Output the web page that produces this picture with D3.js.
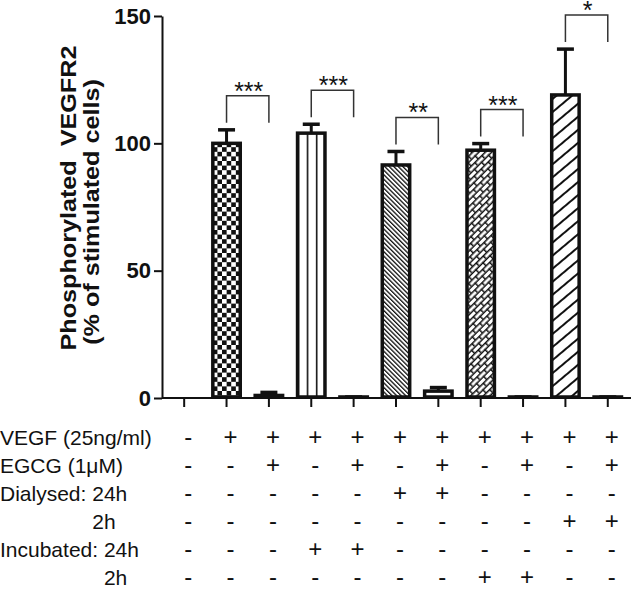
<!DOCTYPE html>
<html>
<head>
<meta charset="utf-8">
<script src="https://cdn.jsdelivr.net/npm/d3@7"></script>
<style>
body { margin: 0; background: #fff; }
svg { display: block; font-family: "Liberation Sans", Arial, sans-serif; }
</style>
</head>
<body>
<div class="content"></div>
<script>
var size = {width: 631, height: 589};
var padding = {left: 162, right: 0, top: 16, bottom: 191};

// One entry per condition (column of the table below the chart)
var conditions = ["c1", "c2", "c3", "c4", "c5", "c6", "c7", "c8", "c9", "c10", "c11"];
var values = [0, 100, 1, 104, 0.4, 91.5, 2.7, 97.3, 0.4, 119, 0.4];
var errors = [0, 5.3, 1.2, 3.5, 0, 5.3, 1.4, 2.6, 0, 18, 0];
var fills = ["none", "checker", "white", "vlines", "white", "diag", "white", "brick", "white", "wide", "white"];
var yTicks = [0, 50, 100, 150];

// Significance brackets between pairs of bars
var pairs = [[1, 2], [3, 4], [5, 6], [7, 8], [9, 10]];
var stars = ["***", "***", "**", "***", "*"];

// Treatment table
var rowLabels = ["VEGF (25ng/ml)", "EGCG (1\u03bcM)", "Dialysed: 24h", "2h", "Incubated: 24h", "2h"];
var rowParents = [null, null, null, "Dialysed: 24h", null, "Incubated: 24h"];
var rowSigns = [
    ["-", "+", "+", "+", "+", "+", "+", "+", "+", "+", "+"],
    ["-", "-", "+", "-", "+", "-", "+", "-", "+", "-", "+"],
    ["-", "-", "-", "-", "-", "+", "+", "-", "-", "-", "-"],
    ["-", "-", "-", "-", "-", "-", "-", "-", "-", "+", "+"],
    ["-", "-", "-", "+", "+", "-", "-", "-", "-", "-", "-"],
    ["-", "-", "-", "-", "-", "-", "-", "+", "+", "-", "-"]
];

var svg = d3.select('.content')
    .append('svg')
    .attr('width', size.width)
    .attr('height', size.height);

var xScale = d3.scaleBand()
    .domain(conditions)
    .range([padding.left + 1, padding.left + 1 + 42.36 * conditions.length])
    .paddingInner(0.27)
    .paddingOuter(0.135);
var yScale = d3.scaleLinear()
    .domain([0, 150])
    .range([398, padding.top]);

var barStroke = 3.5;
var bw = xScale.bandwidth();

// Fill patterns, one per bar so each lines up with its own bar
var defs = svg.append('defs');
function makePattern(i, kind) {
    var bx = xScale(conditions[i]) + barStroke / 2;
    var inner = bw - barStroke;
    var id = 'pat' + i;
    var p;
    if (kind == 'checker') {
        var c = 4.6;
        p = defs.append('pattern').attr('id', id).attr('patternUnits', 'userSpaceOnUse')
            .attr('x', bx).attr('y', 0).attr('width', 2 * c).attr('height', 2 * c);
        p.append('rect').attr('width', 2 * c).attr('height', 2 * c).attr('fill', '#fff');
        p.append('rect').attr('width', c).attr('height', c).attr('fill', '#111');
        p.append('rect').attr('x', c).attr('y', c).attr('width', c).attr('height', c).attr('fill', '#111');
    } else if (kind == 'vlines') {
        var w = inner / 3;
        p = defs.append('pattern').attr('id', id).attr('patternUnits', 'userSpaceOnUse')
            .attr('x', bx).attr('y', 0).attr('width', w).attr('height', 10);
        p.append('rect').attr('width', w).attr('height', 10).attr('fill', '#fff');
        p.append('rect').attr('x', 0).attr('width', 1.6).attr('height', 10).attr('fill', '#111');
    } else if (kind == 'diag') {
        p = defs.append('pattern').attr('id', id).attr('patternUnits', 'userSpaceOnUse')
            .attr('width', 3.2).attr('height', 10).attr('patternTransform', 'rotate(-45)');
        p.append('rect').attr('width', 3.2).attr('height', 10).attr('fill', '#fff');
        p.append('rect').attr('width', 1.3).attr('height', 10).attr('fill', '#111');
    } else if (kind == 'brick') {
        p = defs.append('pattern').attr('id', id).attr('patternUnits', 'userSpaceOnUse')
            .attr('width', 10).attr('height', 9).attr('patternTransform', 'rotate(-45)');
        p.append('rect').attr('width', 10).attr('height', 9).attr('fill', '#fff');
        p.append('rect').attr('y', 0).attr('width', 10).attr('height', 1.5).attr('fill', '#111');
        p.append('rect').attr('y', 4.5).attr('width', 10).attr('height', 1.5).attr('fill', '#111');
        p.append('rect').attr('x', 0).attr('y', 0).attr('width', 1.5).attr('height', 4.5).attr('fill', '#111');
        p.append('rect').attr('x', 5).attr('y', 4.5).attr('width', 1.5).attr('height', 4.5).attr('fill', '#111');
    } else if (kind == 'wide') {
        p = defs.append('pattern').attr('id', id).attr('patternUnits', 'userSpaceOnUse')
            .attr('width', 10).attr('height', 10).attr('patternTransform', 'rotate(-40)');
        p.append('rect').attr('width', 10).attr('height', 10).attr('fill', '#fff');
        p.append('rect').attr('y', 0).attr('width', 10).attr('height', 2).attr('fill', '#111');
    } else {
        return '#fff';
    }
    return 'url(#' + id + ')';
}

// Axes
var yAxis = d3.axisLeft(yScale).tickValues(yTicks).tickSize(8).tickSizeOuter(0).tickPadding(3);
var yAxisObj = svg.append('g')
    .attr('transform', 'translate(' + padding.left + ',0)')
    .call(yAxis);
yAxisObj.select('.domain').attr('stroke', '#111').attr('stroke-width', 2);
yAxisObj.selectAll('.tick line').attr('stroke', '#111').attr('stroke-width', 2);
yAxisObj.selectAll('.tick text')
    .attr('fill', '#111')
    .style('font-size', '22px')
    .style('font-weight', 'bold');

var xAxis = d3.axisBottom(xScale).tickSize(9).tickSizeOuter(0).tickFormat('');
var xAxisObj = svg.append('g')
    .attr('transform', 'translate(0,' + yScale(0) + ')')
    .call(xAxis);
xAxisObj.select('.domain').remove();
xAxisObj.selectAll('.tick line').attr('stroke', '#111').attr('stroke-width', 2);
svg.append('line')
    .attr('x1', padding.left).attr('x2', size.width)
    .attr('y1', yScale(0)).attr('y2', yScale(0))
    .attr('stroke', '#111').attr('stroke-width', 2);

// Bars
var barData = conditions.map(function(d, i) {
    return {id: d, value: values[i], err: errors[i], fill: makePattern(i, fills[i])};
}).filter(function(d) { return d.value > 0; });

var plot = svg.append('g').attr('class', 'plot');

// Error bars (upper only), drawn under the bars
plot.selectAll('line.stem').data(barData).enter().append('line')
    .attr('class', 'stem')
    .attr('x1', function(d) { return xScale(d.id) + bw / 2; })
    .attr('x2', function(d) { return xScale(d.id) + bw / 2; })
    .attr('y1', function(d) { return yScale(d.value); })
    .attr('y2', function(d) { return yScale(d.value + d.err); })
    .attr('stroke', '#111').attr('stroke-width', 3);
plot.selectAll('line.cap').data(barData).enter().append('line')
    .attr('class', 'cap')
    .attr('x1', function(d) { return xScale(d.id) + bw / 2 - 8.5; })
    .attr('x2', function(d) { return xScale(d.id) + bw / 2 + 8.5; })
    .attr('y1', function(d) { return yScale(d.value + d.err); })
    .attr('y2', function(d) { return yScale(d.value + d.err); })
    .attr('stroke', '#111').attr('stroke-width', 3.5);

plot.selectAll('rect.bar').data(barData).enter().append('rect')
    .attr('class', 'bar')
    .attr('x', function(d) { return xScale(d.id) + barStroke / 2; })
    .attr('width', bw - barStroke)
    .attr('y', function(d) { return yScale(d.value); })
    .attr('height', function(d) { return yScale(0) - yScale(d.value) - 1; })
    .attr('fill', function(d) { return d.fill; })
    .attr('stroke', '#111')
    .attr('stroke-width', barStroke);

// Significance brackets
var brackets = pairs.map(function(p, i) {
    var top = d3.max(p, function(k) { return values[k] + errors[k]; });
    return {a: conditions[p[0]], b: conditions[p[1]], top: top, label: stars[i]};
});
var br = svg.selectAll('g.bracket').data(brackets).enter().append('g').attr('class', 'bracket');
br.append('path')
    .attr('d', function(d) {
        var xa = xScale(d.a) + bw / 2, xb = xScale(d.b) + bw / 2;
        var yt = yScale(d.top) - 34;
        return 'M' + xa + ',' + (yt + 27) + 'V' + yt + 'H' + xb + 'V' + (yt + 27);
    })
    .attr('fill', 'none').attr('stroke', '#333').attr('stroke-width', 1.5);
br.append('text')
    .attr('x', function(d) { return (xScale(d.a) + xScale(d.b)) / 2 + bw / 2 + 1; })
    .attr('y', function(d) { return yScale(d.top) - 30; })
    .attr('text-anchor', 'middle')
    .style('font-size', '25px')
    .attr('fill', '#111')
    .text(function(d) { return d.label; });

// Y-axis title (stretched along its length like the original)
svg.append('text')
    .attr('transform', 'translate(76,198) rotate(-90) scale(1.145,1)')
    .attr('text-anchor', 'middle')
    .style('font-size', '22px').style('font-weight', 'bold')
    .attr('fill', '#111')
    .style('white-space', 'pre')
    .text('Phosphorylated  VEGFR2');
svg.append('text')
    .attr('transform', 'translate(99,212) rotate(-90) scale(1.145,1)')
    .attr('text-anchor', 'middle')
    .style('font-size', '22px').style('font-weight', 'bold')
    .attr('fill', '#111')
    .text('(% of stimulated cells)');

// Treatment table
var tableFont = '21px "Liberation Sans", Arial, sans-serif';
var signFont = '24px "Liberation Sans", Arial, sans-serif';
function textWidth(str) {
    var t = svg.append('text').style('font', tableFont).text(str);
    var w = t.node().getComputedTextLength();
    t.remove();
    return w;
}
var rowBase = 445, rowStep = 28;
var rows = svg.selectAll('g.row').data(rowLabels).enter().append('g')
    .attr('class', 'row')
    .attr('transform', function(d, i) { return 'translate(0,' + (rowBase + i * rowStep) + ')'; });
rows.append('text')
    .attr('x', function(d, i) {
        var p = rowParents[i];
        return p ? textWidth(p) - textWidth(p.slice(p.lastIndexOf(' ') + 1)) : 0;
    })
    .style('font', tableFont)
    .attr('fill', '#111')
    .text(function(d) { return d; });
rows.each(function(d, i) {
    d3.select(this).selectAll('text.sign').data(rowSigns[i]).enter().append('text')
        .attr('class', 'sign')
        .attr('x', function(s, j) { return xScale(conditions[j]) + bw / 2 + 4; })
        .attr('text-anchor', 'middle')
        .style('font', signFont)
        .attr('fill', '#111')
        .text(function(s) { return s; });
});
</script>
</body>
</html>
